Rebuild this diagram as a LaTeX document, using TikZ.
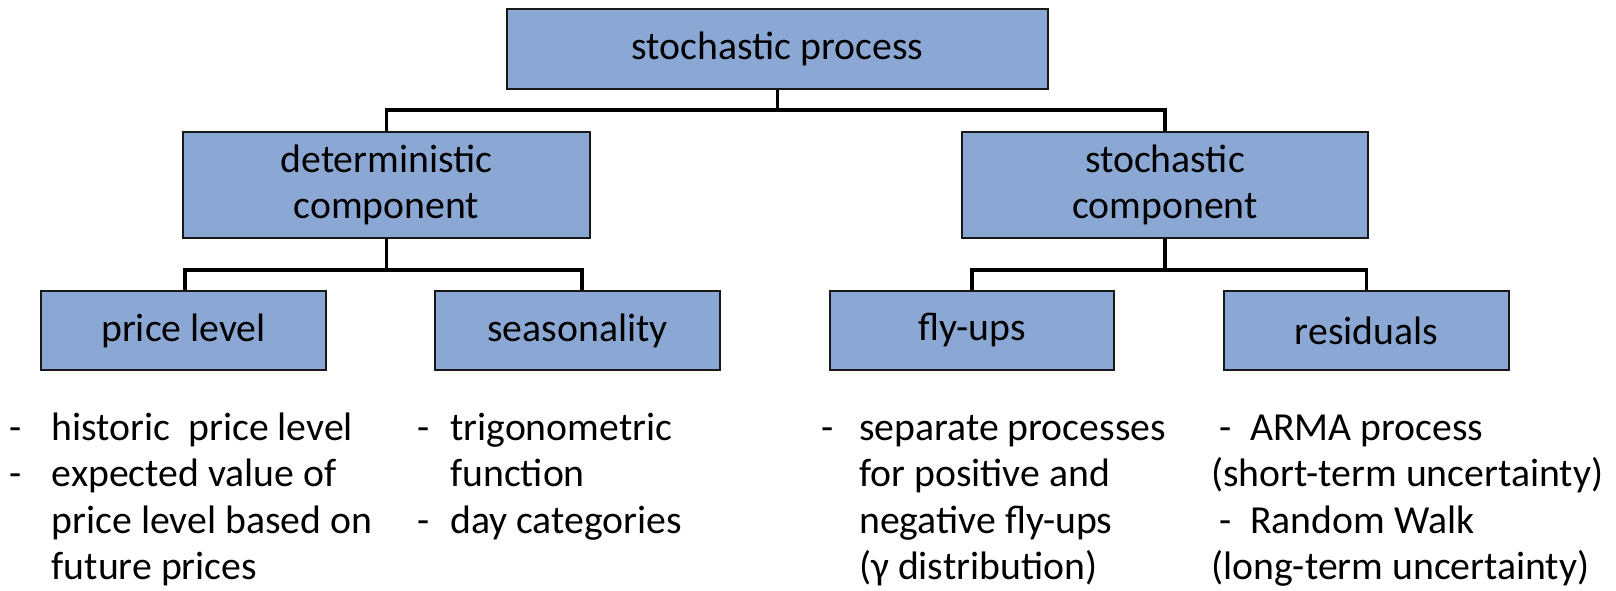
\documentclass[tikz,border=0pt]{standalone}
\usepackage{fontspec}
\setmainfont{Carlito}
\usetikzlibrary{calc}
\definecolor{boxfill}{RGB}{139,168,212}
\definecolor{boxline}{RGB}{25,25,25}
\begin{document}
\begin{tikzpicture}[x=0.75pt,y=-0.75pt,
  box/.style={draw=boxline,fill=boxfill,line width=1.6pt,inner sep=0pt,align=center,
    font=\fontsize{29.8}{34.9}\selectfont},
  conn/.style={line width=2.6pt,line join=miter},
  desc/.style={anchor=base west,inner sep=0pt,font=\fontsize{29.8}{34.9}\selectfont}]
\useasboundingbox (0,0) rectangle (1616,590);

\node[box,minimum width=405.75pt,minimum height=60pt] (top) at (777.5,49) {stochastic process};
\node[box,minimum width=305.25pt,minimum height=79.5pt] (det) at (386.5,185) {deterministic\\component};
\node[box,minimum width=304.5pt,minimum height=79.5pt] (sto) at (1165,185) {stochastic\\component};
\node[box,minimum width=213.75pt,minimum height=59.25pt] (pl) at (183.5,330.5) {price level};
\node[box,minimum width=213.75pt,minimum height=59.25pt] (seas) at (577.5,330.5) {seasonality};
\node[box,minimum width=213pt,minimum height=59.25pt] (fly) at (972,330.5) {fly-ups};
\node[box,minimum width=213.75pt,minimum height=59.25pt] (res) at (1366.5,330.5) {residuals};

\coordinate (j1) at (777.5,110);
\coordinate (j2) at (386.5,270);
\coordinate (j3) at (1165,270);
\draw[conn] (top.south) -- (j1);
\draw[conn] (det.north) |- (j1) -| (sto.north);
\draw[conn] (det.south) -- (j2);
\draw[conn] ($(pl.north)+(1.5,0)$) |- (j2) -| ($(seas.north)+(4.5,0)$);
\draw[conn] (sto.south) -- (j3);
\draw[conn] (fly.north) |- (j3) -| (res.north);

\node[desc] (d1) at (9,440) {\begin{tabular}[t]{@{}l@{}}
\makebox[31.9pt][l]{-}historic\ \ price level\\
\makebox[31.9pt][l]{-}expected value of\\
\hspace*{31.9pt}price level based on\\
\hspace*{31.9pt}future prices
\end{tabular}};
\node[desc] (d2) at (417,440) {\begin{tabular}[t]{@{}l@{}}
\makebox[24.75pt][l]{-}trigonometric\\
\hspace*{24.75pt}function\\
\makebox[24.75pt][l]{-}day categories
\end{tabular}};
\node[desc] (d3) at (821,440) {\begin{tabular}[t]{@{}l@{}}
\makebox[28.5pt][l]{-}separate processes\\
\hspace*{28.5pt}for positive and\\
\hspace*{28.5pt}negative fly-ups\\
\hspace*{28.5pt}(γ distribution)
\end{tabular}};
\node[desc] (d4) at (1211,440) {\begin{tabular}[t]{@{}l@{}}
\hspace*{6pt}\makebox[23.25pt][l]{-}ARMA process\\
(short-term uncertainty)\\
\hspace*{6pt}\makebox[23.25pt][l]{-}Random Walk\\
(long-term uncertainty)
\end{tabular}};
\end{tikzpicture}
\end{document}
